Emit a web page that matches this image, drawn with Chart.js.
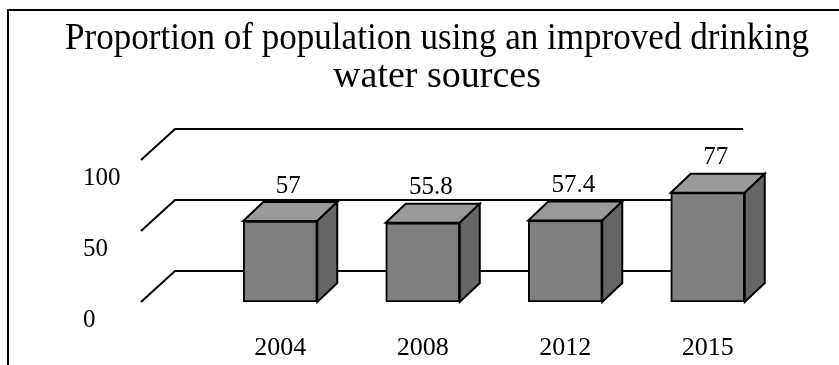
<!DOCTYPE html>
<html>
<head>
<meta charset="utf-8">
<script src="https://cdn.jsdelivr.net/npm/chart.js@4/dist/chart.umd.min.js"></script>
<style>
  html, body { margin: 0; padding: 0; background: #fff; overflow: hidden; }
  #wrap { position: relative; width: 839px; height: 365px; }
  #c { position: absolute; left: 0; top: 0; }
  #frame { position: absolute; left: 7px; top: 9px; width: 1000px; height: 1000px;
           border: 2px solid #000; pointer-events: none; }
</style>
</head>
<body>
<div id="wrap">
  <canvas id="c" width="839" height="365"></canvas>
  <div id="frame"></div>
</div>
<script>
// Survey years and share of population (%) with improved drinking water
const categories = ['2004', '2008', '2012', '2015'];
const shares = [57, 55.8, 57.4, 77];
const yTicks = [0, 50, 100];

const SERIF = '"Liberation Serif", "Times New Roman", serif';

// Simple 3D look: back wall grid lines with left diagonals, plus box tops/sides
const depth3d = {
  id: 'depth3d',
  beforeDatasetsDraw(chart) {
    const { ctx, chartArea, scales } = chart;
    const y = scales.y;
    const fx0 = chartArea.left - 68;
    const fx1 = chartArea.right - 70;
    const ddx = 34, ddy = -31;
    ctx.save();
    ctx.strokeStyle = '#000';
    ctx.lineWidth = 2;
    yTicks.forEach(v => {
      const yf = y.getPixelForValue(v);
      ctx.beginPath();
      ctx.moveTo(fx0, yf);
      ctx.lineTo(fx0 + ddx, yf + ddy);
      ctx.lineTo(fx1 + ddx, yf + ddy);
      ctx.stroke();
    });
    ctx.restore();
  },
  afterDatasetsDraw(chart) {
    const { ctx } = chart;
    const meta = chart.getDatasetMeta(0);
    const dx = 20, dy = -19;
    ctx.save();
    ctx.strokeStyle = '#000';
    ctx.lineWidth = 2;
    ctx.lineJoin = 'miter';
    meta.data.forEach((bar, i) => {
      const { x, y, base, width } = bar.getProps(['x', 'y', 'base', 'width'], true);
      const l = x - width / 2, r = x + width / 2;
      // top face
      ctx.beginPath();
      ctx.moveTo(l, y);
      ctx.lineTo(l + dx, y + dy);
      ctx.lineTo(r + dx, y + dy);
      ctx.lineTo(r, y);
      ctx.closePath();
      ctx.fillStyle = '#999999';
      ctx.fill();
      ctx.stroke();
      // side face
      ctx.beginPath();
      ctx.moveTo(r, y);
      ctx.lineTo(r + dx, y + dy);
      ctx.lineTo(r + dx, base + dy);
      ctx.lineTo(r, base);
      ctx.closePath();
      ctx.fillStyle = '#666666';
      ctx.fill();
      ctx.stroke();
      // value label
      ctx.fillStyle = '#000';
      ctx.font = '25px ' + SERIF;
      ctx.textAlign = 'center';
      ctx.textBaseline = 'middle';
      ctx.fillText(String(shares[i]), x + 8, y + dy - 16);
    });
    ctx.restore();
  }
};

// empty spacer axes that only reserve room beside the plot
const spacer = (position, size) => ({
  type: 'linear',
  position,
  weight: 1,
  display: true,
  grid: { display: false, drawTicks: false },
  border: { display: false },
  ticks: { display: false },
  afterFit(scale) { scale.width = size; }
});

new Chart(document.getElementById('c'), {
  type: 'bar',
  data: {
    labels: categories,
    datasets: [{
      data: shares,
      backgroundColor: '#808080',
      borderColor: '#000',
      borderWidth: 2,
      borderSkipped: false,
      barThickness: 74
    }]
  },
  options: {
    responsive: false,
    devicePixelRatio: 1,
    animation: false,
    layout: { padding: { left: 65, right: 30, top: 0, bottom: 1 } },
    plugins: {
      legend: { display: false },
      tooltip: { enabled: false },
      title: {
        display: true,
        text: ['Proportion of population using an improved drinking', 'water sources'],
        color: '#000',
        font: { family: SERIF, size: 38, weight: 'normal', lineHeight: 1.0 },
        padding: { top: 20, bottom: 64 }
      }
    },
    scales: {
      x: {
        grid: { display: false, drawTicks: false },
        border: { display: false },
        ticks: { color: '#000', font: { family: SERIF, size: 26 }, padding: 31, maxRotation: 0 },
        afterFit(scale) { scale.height = 62; }
      },
      y: {
        min: 0,
        max: 100,
        weight: 0,
        grid: { display: false, drawTicks: false },
        border: { display: false },
        ticks: {
          stepSize: 50,
          color: '#000',
          crossAlign: 'far',
          labelOffset: 18,
          font: { family: SERIF, size: 25 }
        },
        afterFit(scale) { scale.width = 126; }
      },
      yGutterLeft: spacer('left', 18),
      yGutterRight: spacer('right', 30)
    }
  },
  plugins: [depth3d]
});
</script>
</body>
</html>
